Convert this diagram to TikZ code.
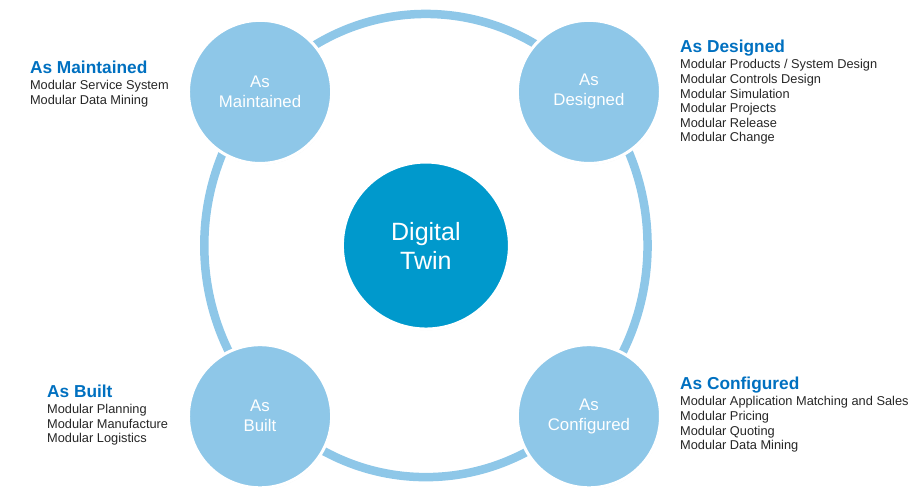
\documentclass[tikz,border=0pt]{standalone}
\usepackage{fontspec}
\setmainfont{Liberation Sans}
\usepackage{xcolor}
\usepackage{tikz}
\usetikzlibrary{positioning, shadows}
\definecolor{twinblue}{RGB}{0, 153, 204}
\definecolor{stageblue}{RGB}{142, 199, 232}
\definecolor{titleblue}{RGB}{0, 112, 192}
\definecolor{darkgray}{RGB}{38, 38, 38}
\newcommand{\infotitle}[1]{\textcolor{titleblue}{\fontsize{17.3}{20}\selectfont\bfseries #1}}

\begin{document}
\begin{tikzpicture}[
  twin/.style={circle, draw=white, line width=3pt, fill=twinblue, minimum size=5.87cm, align=center, text=white, font=\fontsize{25}{29}\selectfont, drop shadow={opacity=0.18, shadow xshift=0.5pt, shadow yshift=-1.2pt}},
  stage/.style={circle, draw=white, line width=3pt, fill=stageblue, minimum size=5.03cm, align=center, text=white, font=\fontsize{16.8}{20}\selectfont, drop shadow={opacity=0.18, shadow xshift=0.5pt, shadow yshift=-1.2pt}},
  info/.style={anchor=north west, inner sep=0pt, align=left, text=darkgray, font=\fontsize{12.8}{14.6}\selectfont},
  ring/.style={stageblue, line width=8.5pt}
]
\useasboundingbox (-14.97, -8.49) rectangle (17.19, 8.63);

% Centre
\node[twin] (twin) at (0, 0) {Digital\\Twin};

% Life-cycle ring
\draw[ring] (twin.center) ellipse [x radius=7.79cm, y radius=8.14cm];

% Stages
\node[stage] (maintained) at (-5.83, 5.40) {As\\Maintained};
\node[stage] (designed) at (5.73, 5.40) {As\\Designed};
\node[stage] (built) at (-5.83, -6.00) {As\\Built};
\node[stage] (configured) at (5.73, -6.00) {As\\Configured};

% Descriptions
\node[info] (maintainedInfo) at (-13.92, 6.49) {\infotitle{As Maintained}\\[1.5pt]
Modular Service System\\
Modular Data Mining};

\node[info] (designedInfo) at (8.93, 7.22) {\infotitle{As Designed}\\[1.5pt]
Modular Products / System Design\\
Modular Controls Design\\
Modular Simulation\\
Modular Projects\\
Modular Release\\
Modular Change};

\node[info] (builtInfo) at (-13.32, -4.90) {\infotitle{As Built}\\[1.5pt]
Modular Planning\\
Modular Manufacture\\
Modular Logistics};

\node[info] (configuredInfo) at (8.93, -4.62) {\infotitle{As Configured}\\[1.5pt]
Modular Application Matching and Sales\\
Modular Pricing\\
Modular Quoting\\
Modular Data Mining};

\end{tikzpicture}
\end{document}
